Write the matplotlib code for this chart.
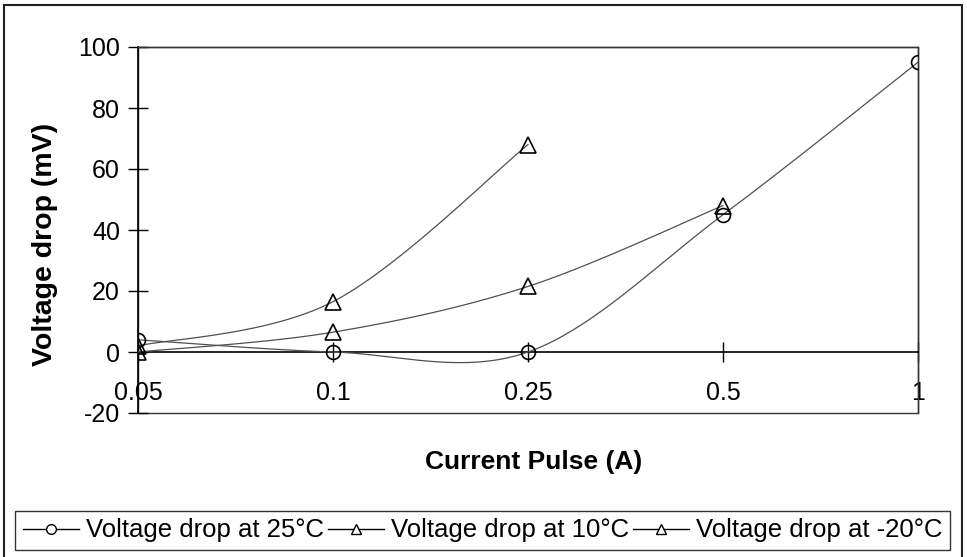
import numpy as np
import matplotlib
matplotlib.use("Agg")
import matplotlib.pyplot as plt
from matplotlib.patches import Rectangle

plt.rcParams['font.family'] = ['Liberation Sans', 'DejaVu Sans']
plt.rcParams['axes.unicode_minus'] = False

categories = ["0.05", "0.1", "0.25", "0.5", "1"]
v25 = [4, 0, 0, 45, 95]
v10 = [0, 6.5, 21.5, 48, np.nan]
vm20 = [2, 16.5, 68, np.nan, np.nan]
series_names = ["Voltage drop at 25\u00b0C", "Voltage drop at 10\u00b0C", "Voltage drop at -20\u00b0C"]
y_ticks = [-20, 0, 20, 40, 60, 80, 100]


def excel_smooth(xs, ys, n=40):
    """Excel-style smoothed line: cubic Bezier segments through the points."""
    pts = [(x, y) for x, y in zip(xs, ys) if not np.isnan(y)]
    px = np.array([p[0] for p in pts], float)
    py = np.array([p[1] for p in pts], float)
    m = len(px)
    outx, outy = [], []
    for i in range(m - 1):
        p0 = np.array([px[max(i - 1, 0)], py[max(i - 1, 0)]])
        p1 = np.array([px[i], py[i]])
        p2 = np.array([px[i + 1], py[i + 1]])
        p3 = np.array([px[min(i + 2, m - 1)], py[min(i + 2, m - 1)]])
        c1 = p1 + (p2 - p0) / 6.0
        c2 = p2 - (p3 - p1) / 6.0
        t = np.linspace(0, 1, n)[:, None]
        b = ((1 - t) ** 3) * p1 + 3 * ((1 - t) ** 2) * t * c1 + 3 * (1 - t) * t ** 2 * c2 + t ** 3 * p2
        if i > 0:
            b = b[1:]
        outx.extend(b[:, 0])
        outy.extend(b[:, 1])
    return outx, outy


fig = plt.figure(figsize=(9.67, 5.57), dpi=100)
ax = fig.add_axes([138 / 967, 1 - 413 / 557, (918 - 138) / 967, (413 - 47) / 557])

x = np.arange(len(categories))
line_kw = dict(color='#505050', lw=0.9)
mk_kw = dict(ls='none', mfc='none', mec='black', mew=1.2)

handles = []
for vals, mk, ms in [(v25, 'o', 10), (v10, '^', 11), (vm20, '^', 11)]:
    sx, sy = excel_smooth(x, vals)
    ax.plot(sx, sy, zorder=3, **line_kw)
    ax.plot(x, vals, marker=mk, ms=ms, zorder=4, **mk_kw)
    h, = ax.plot([], [], color='black', lw=1.0, marker=mk, ms=7, mfc='white', mec='black', mew=1.0)
    handles.append(h)

ax.set_xlim(0, len(categories) - 1)
ax.set_ylim(-20, 100)
ax.set_yticks(y_ticks)
ax.set_xticks(x)
ax.set_xticklabels(categories)

ax.spines['bottom'].set_position(('data', 0))
for s in ['left', 'bottom']:
    ax.spines[s].set_color('black')
    ax.spines[s].set_linewidth(1.2)
for s in ['top', 'right']:
    ax.spines[s].set_color('#333333')
    ax.spines[s].set_linewidth(1.0)
ax.add_patch(Rectangle((0, 0), 1, 1, transform=ax.transAxes, fill=False,
                       edgecolor='#333333', lw=1.0, zorder=1, clip_on=False))

ax.tick_params(axis='y', direction='inout', length=14, width=1.0, labelsize=18, pad=6)
ax.tick_params(axis='x', direction='inout', length=14, width=1.0, labelsize=18, pad=14)

ax.set_ylabel("Voltage drop (mV)", fontsize=20.5, fontweight='bold')
ax.yaxis.set_label_coords((58 - 138) / 780, 0.46)
fig.text(534 / 967, 1 - 462 / 557, "Current Pulse (A)", fontsize=19, fontweight='bold',
         ha='center', va='center')

leg = fig.legend(handles, series_names, loc='center', ncol=3,
                 bbox_to_anchor=(482.5 / 967, 1 - 530.5 / 557), fontsize=18.5,
                 frameon=True, fancybox=False, edgecolor='black', handlelength=2.2,
                 handletextpad=0.25, columnspacing=0.15, borderpad=0.3)
leg.get_frame().set_linewidth(1.0)

fig.add_artist(Rectangle((4 / 967, -0.05), (962 - 4) / 967, 1.05 - 5 / 557,
                         transform=fig.transFigure, fill=False, edgecolor='#222222',
                         lw=1.5, clip_on=False))

fig.savefig("out.png", dpi=100)
